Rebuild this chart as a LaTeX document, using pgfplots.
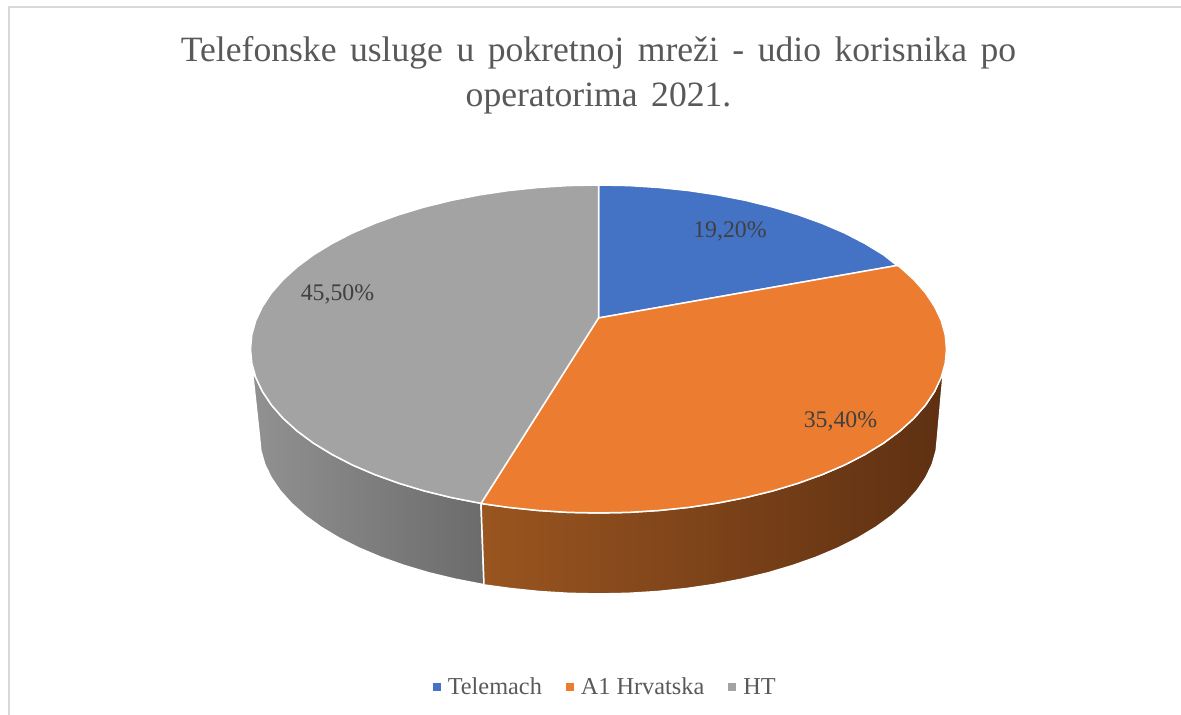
\documentclass[border=0pt]{standalone}
\usepackage{fontspec}
\setmainfont{Liberation Serif}
\newfontfamily\titlefont[WordSpace=1.52]{Liberation Serif}
\usepackage{pgfplots}
\pgfplotsset{compat=1.18}
\definecolor{cBlue}{HTML}{4472C4}
\definecolor{cOrange}{HTML}{EB7C30}
\definecolor{cGray}{HTML}{A3A3A3}
\definecolor{cFrame}{HTML}{D9D9D9}
\definecolor{cTitle}{HTML}{595959}
\definecolor{cSideL}{HTML}{9A5520}
\definecolor{cSideD}{HTML}{5E3012}
\begin{document}
\begin{tikzpicture}
\begin{axis}[
  scale only axis, width=1181pt, height=715pt,
  xmin=-598.5, xmax=582.5, ymin=-366, ymax=349,
  hide axis,
  legend columns=3,
  legend style={at={(0.5125,0.039)}, anchor=center, draw=none, fill=none,
    font=\fontsize{24.3}{26}\selectfont\color{cTitle},
    /tikz/every odd column/.style={column sep=5pt},
    /tikz/every even column/.style={column sep=22pt}},
  legend image code/.code={\fill[#1,draw=none] (0pt,-4pt) rectangle (8pt,4pt);},
]
% chart frame
\addplot[cFrame, line width=2.4pt, forget plot] coordinates {(-589.8,-366) (-589.8,341.8) (582.5,341.8)};
% side of the disc, grey part
\addplot[white, line width=1.5pt, left color=black!43, right color=black!58, forget plot] coordinates {
 (-114.5,-236) (-115.9,-235.5) (-143.3,-230.2) (-169.5,-223.9) (-194.4,-216.5) (-217.9,-208.2)
 (-239.7,-199) (-259.7,-188.9) (-277.7,-178.1) (-293.6,-166.5) (-307.2,-154.3) (-318.5,-141.7)
 (-327.4,-128.6) (-333.8,-115.3) (-337.7,-101.7) (-339,-88)
 (-346,-23) (-342.7,-28.5) (-336.1,-42.4) (-327,-56.1) (-315.4,-69.3) (-301.4,-82) (-285.1,-94.1)
 (-266.6,-105.4) (-246.1,-116) (-223.7,-125.6) (-199.6,-134.3) (-174,-142) (-147.1,-148.6)
 (-119,-154.1) (-117.5,-154.5)} -- cycle;
% side of the disc, orange part
\addplot[white, line width=1.5pt, left color=cSideL, middle color=cSideD, right color=cSideD, forget plot] coordinates {
 (-117.5,-154.5) (-90.1,-158.4) (-60.4,-161.5) (-30.3,-163.4) (0,-164) (30.3,-163.4) (60.4,-161.5)
 (90.1,-158.4) (119,-154.1) (147.1,-148.6) (174,-142) (199.6,-134.3) (223.7,-125.6) (246.1,-116)
 (266.6,-105.4) (285.1,-94.1) (301.4,-82) (315.4,-69.3) (327,-56.1) (336.1,-42.4) (345,-21)
 (339,-88) (337.7,-101.7) (333.8,-115.3) (327.4,-128.6) (318.5,-141.7) (307.2,-154.3) (293.6,-166.5)
 (277.7,-178.1) (259.7,-188.9) (239.7,-199) (217.9,-208.2) (194.4,-216.5) (169.5,-223.9) (143.3,-230.2)
 (115.9,-235.5) (87.8,-239.6) (58.8,-242.6) (29.5,-244.4) (0,-245) (-29.5,-244.4) (-58.8,-242.6)
 (-87.8,-239.6) (-114.5,-236)} -- cycle;
% top of the disc
\addplot[white, line width=1.5pt, fill=cBlue] coordinates {
 (0,31) (0,164) (30.3,163.4) (60.4,161.5) (90.1,158.4) (119,154.1) (147.1,148.6) (174,142) (199.6,134.3)
 (223.7,125.6) (246.1,116) (266.6,105.4) (285.1,94.1) (298.5,83.5)} -- cycle;
\addlegendentry{Telemach}
\addplot[white, line width=1.5pt, fill=cOrange] coordinates {
 (0,31) (298.5,83.5) (301.4,82) (315.4,69.3) (327,56.1) (336.1,42.4) (342.7,28.5) (346.7,14.3) (348,0)
 (346.7,-14.3) (342.7,-28.5) (336.1,-42.4) (327,-56.1) (315.4,-69.3) (301.4,-82) (285.1,-94.1)
 (266.6,-105.4) (246.1,-116) (223.7,-125.6) (199.6,-134.3) (174,-142) (147.1,-148.6) (119,-154.1)
 (90.1,-158.4) (60.4,-161.5) (30.3,-163.4) (0,-164) (-30.3,-163.4) (-60.4,-161.5) (-90.1,-158.4)
 (-117.5,-154.5)} -- cycle;
\addlegendentry{A1 Hrvatska}
\addplot[white, line width=1.5pt, fill=cGray] coordinates {
 (0,31) (-117.5,-154.5) (-119,-154.1) (-147.1,-148.6) (-174,-142) (-199.6,-134.3) (-223.7,-125.6)
 (-246.1,-116) (-266.6,-105.4) (-285.1,-94.1) (-301.4,-82) (-315.4,-69.3) (-327,-56.1) (-336.1,-42.4)
 (-342.7,-28.5) (-346.7,-14.3) (-348,0) (-346.7,14.3) (-342.7,28.5) (-336.1,42.4) (-327,56.1)
 (-315.4,69.3) (-301.4,82) (-285.1,94.1) (-266.6,105.4) (-246.1,116) (-223.7,125.6) (-199.6,134.3)
 (-174,142) (-147.1,148.6) (-119,154.1) (-90.1,158.4) (-60.4,161.5) (-30.3,163.4) (0,164)} -- cycle;
\addlegendentry{HT}
% value labels
\node[text=black!75, font=\fontsize{23.8}{26}\selectfont] at (axis cs:131.5,118) {19,20\%};
\node[text=black!75, font=\fontsize{23.8}{26}\selectfont] at (axis cs:242,-72) {35,40\%};
\node[text=black!75, font=\fontsize{23.8}{26}\selectfont] at (axis cs:-261,55) {45,50\%};
% title
\node[text=cTitle, align=center, font=\titlefont\fontsize{35.6}{45}\selectfont, anchor=center] at (axis cs:0,274)
  {Telefonske usluge u pokretnoj mreži - udio korisnika po\\operatorima 2021.};
\end{axis}
\pgfresetboundingbox
\path[use as bounding box] (current axis.south west) rectangle (current axis.north east);
\end{tikzpicture}
\end{document}
